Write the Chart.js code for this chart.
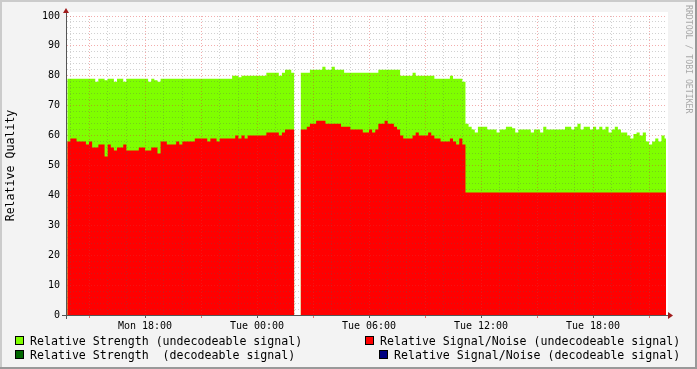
<!DOCTYPE html>
<html>
<head>
<meta charset="utf-8">
<script src="https://cdn.jsdelivr.net/npm/chart.js@4"></script>
<style>
html,body{margin:0;padding:0;background:#f3f3f3;}
#wrap{position:relative;width:697px;height:369px;overflow:hidden;}
canvas{position:absolute;left:0;top:0;}
.lg{position:absolute;font-family:'DejaVu Sans Mono',monospace;font-size:11.6px;white-space:pre;line-height:14px;color:#000;}
.sw{position:absolute;width:7px;height:7px;border:1px solid #000;}
</style>
</head>
<body>
<div id="wrap">
  <canvas id="c" width="697" height="369"></canvas>
  <div id="legend"></div>
</div>
<script>
// ---- data (10-minute steps starting Mon 13:50, hours since Mon 00:00) ----
const startHour = 13 + 50 / 60;
const stepHours = 10 / 60;
const xMin = 13.82;
const xMax = 45.91;

const strength = [
  79,79,79,79,79,79,79,79,79,78,
  79,79,78.5,79,79,78,79,79,78,79,
  79,79,79,79,79,79,78,79,78.5,78,
  79,79,79,79,79,79,79,79,79,79,
  79,79,79,79,79,79,79,79,79,79,
  79,79,79,80,80,79.5,80,80,80,80,
  80,80,80,80,81,81,81,81,80,81,
  82,82,81,82,null,81,81,81,82,82,
  82,82,83,82,82,83,82,82,82,81,
  81,81,81,81,81,81,81,81,81,81,
  82,82,82,82,82,82,82,80,80,80,
  80,81,80,80,80,80,80,80,79,79,
  79,79,79,80,79,79,79,78,64,63,
  62,61,63,63,63,62,62,62,61,62,
  62,63,63,62.5,61,62,62,62,62,61,
  62,62,61,63,62,62,62,62,62,62,
  63,63,62,63,64,62,63,63,62,63,
  62,63,62,63,61,62,63,62,61,61,
  60,59,60.5,61,60,61,58,57,58,59,
  58,60,59
];

const snr = [
  58,59,59,58,58,58,57,58,56,56,
  57,57,53,57,56,55,56,56,57,55,
  55,55,55,56,56,55,55,56,56,54,
  58,58,57,57,57,58,57,58,58,58,
  58,59,59,59,59,58,59,59,58,59,
  59,59,59,59,60,59,60,59,60,60,
  60,60,60,60,61,61,61,61,60,61,
  62,62,62,63,null,62,62,63,64,64,
  65,65,65,64,64,64,64,64,63,63,
  63,62,62,62,62,61,61,62,61,62,
  64,64,65,64,64,63,62,60,59,59,
  59,60,61,60,60,60,61,60,59,59,
  58,58,58,59,58,57,59,57,41,41,
  41,41,41,41,41,41,41,41,41,41,
  41,41,41,41,41,41,41,41,41,41,
  41,41,41,41,41,41,41,41,41,41,
  41,41,41,41,41,41,41,41,41,41,
  41,41,41,41,41,41,41,41,41,41,
  41,41,41,41,41,41,41,41,41,41,
  41,41,41
];

const xTickHours = [18, 24, 30, 36, 42];
const xTickLabels = ['Mon 18:00', 'Tue 00:00', 'Tue 06:00', 'Tue 12:00', 'Tue 18:00'];

const legendLabels = [
  'Relative Strength (undecodeable signal)',
  'Relative Signal/Noise (undecodeable signal)',
  'Relative Strength  (decodeable signal)',
  'Relative Signal/Noise (decodeable signal)'
];
const legendColors = ['#7FFF00', '#FF0000', '#006600', '#000080'];

// ---- helpers ----
function toPoints(arr) {
  const pts = arr.map((v, i) => ({ x: startHour + i * stepHours, y: v }));
  pts.push({ x: xMax, y: arr[arr.length - 1] });
  return pts;
}
const gridHours = [];
for (let h = Math.ceil(xMin); h <= Math.floor(xMax); h++) gridHours.push(h);

const MONO = "'DejaVu Sans Mono', monospace";
const MINOR = 'rgba(90,90,90,0.28)';
const MAJOR = 'rgba(225,50,50,0.40)';

// ---- legend (HTML text) ----
const legendPos = [
  { sx: 15, sy: 336, tx: 30, ty: 334 },
  { sx: 365, sy: 336, tx: 380, ty: 334 },
  { sx: 15, sy: 350, tx: 30, ty: 348 },
  { sx: 379, sy: 350, tx: 394, ty: 348 }
];
const lg = document.getElementById('legend');
legendLabels.forEach((t, i) => {
  const p = legendPos[i];
  const s = document.createElement('div');
  s.className = 'sw';
  s.style.left = p.sx + 'px'; s.style.top = p.sy + 'px';
  s.style.background = legendColors[i];
  lg.appendChild(s);
  const d = document.createElement('div');
  d.className = 'lg';
  d.style.left = p.tx + 'px'; d.style.top = p.ty + 'px';
  d.textContent = t;
  lg.appendChild(d);
});

// ---- decoration plugin ----
const frame = {
  id: 'frame',
  beforeDraw(chart) {
    const { ctx, chartArea: a } = chart;
    ctx.save();
    ctx.fillStyle = '#f3f3f3';
    ctx.fillRect(0, 0, chart.width, chart.height);
    // 3D border
    ctx.fillStyle = '#cbcbcb';
    ctx.fillRect(0, 0, chart.width, 2);
    ctx.fillRect(0, 0, 2, chart.height);
    ctx.fillStyle = '#999999';
    ctx.fillRect(0, chart.height - 2, chart.width, 2);
    ctx.fillRect(chart.width - 2, 0, 2, chart.height);
    // canvas
    ctx.fillStyle = '#ffffff';
    ctx.fillRect(a.left, a.top - 4, a.right - a.left + 2, a.bottom - a.top + 4);
    ctx.restore();
  },
  afterDraw(chart) {
    const { ctx, chartArea: a } = chart;
    ctx.save();
    // axes
    ctx.fillStyle = '#555555';
    ctx.fillRect(a.left - 1, a.top - 4, 1, a.bottom - a.top + 8);
    ctx.fillRect(a.left - 5, a.bottom, a.right - a.left + 9, 1);
    // arrows
    ctx.fillStyle = '#a01c1c';
    ctx.beginPath();
    ctx.moveTo(a.left - 4, a.top - 3);
    ctx.lineTo(a.left + 2, a.top - 3);
    ctx.lineTo(a.left - 1, a.top - 8);
    ctx.closePath(); ctx.fill();
    ctx.beginPath();
    ctx.moveTo(a.right + 2, a.bottom - 3);
    ctx.lineTo(a.right + 2, a.bottom + 4);
    ctx.lineTo(a.right + 7, a.bottom + 0.5);
    ctx.closePath(); ctx.fill();
    // watermark
    ctx.translate(688, 5);
    ctx.rotate(Math.PI / 2);
    ctx.font = "8.2px " + MONO;
    ctx.fillStyle = '#a8a8a8';
    ctx.textBaseline = 'middle';
    ctx.textAlign = 'left';
    ctx.fillText('RRDTOOL / TOBI OETIKER', 0, 0);
    ctx.restore();
  }
};

new Chart(document.getElementById('c'), {
  type: 'line',
  data: {
    datasets: [
      {
        label: legendLabels[0], data: toPoints(strength),
        backgroundColor: legendColors[0], borderColor: legendColors[0], borderWidth: 0,
        fill: 'origin', stepped: 'before', pointRadius: 0, spanGaps: false, order: 2
      },
      {
        label: legendLabels[1], data: toPoints(snr),
        backgroundColor: legendColors[1], borderColor: legendColors[1], borderWidth: 0,
        fill: 'origin', stepped: 'before', pointRadius: 0, spanGaps: false, order: 1
      }
    ]
  },
  options: {
    responsive: false,
    animation: false,
    devicePixelRatio: 1,
    layout: { padding: { left: 0, top: 16, right: 31, bottom: 34 } },
    plugins: { legend: { display: false }, tooltip: { enabled: false } },
    scales: {
      x: {
        type: 'linear', min: xMin, max: xMax,
        afterBuildTicks: s => { s.ticks = gridHours.map(v => ({ value: v })); },
        afterFit: s => { s.height = 20; },
        ticks: {
          autoSkip: false, maxRotation: 0, minRotation: 0, padding: 2,
          color: '#000', font: { family: MONO, size: 10 },
          callback: v => { const k = xTickHours.indexOf(v); return k >= 0 ? xTickLabels[k] : ''; }
        },
        grid: {
          z: 1, lineWidth: 1,
          color: c => (c.tick && c.tick.value % 3 === 0) ? MAJOR : MINOR,
          drawTicks: true, tickLength: 3,
          tickColor: c => {
            const v = c.tick ? c.tick.value : 1;
            if (v % 6 === 0) return '#555555';
            if (v % 3 === 0) return 'rgba(220,60,60,0.7)';
            return 'rgba(0,0,0,0)';
          }
        },
        border: { display: false, dash: [1, 2] }
      },
      y: {
        min: 0, max: 100,
        afterFit: s => { s.width = 67; },
        ticks: {
          stepSize: 2, autoSkip: false, padding: 7,
          color: '#000', font: { family: MONO, size: 10 },
          callback: v => (v % 10 === 0 ? String(v) : '')
        },
        grid: {
          z: 1, lineWidth: 1, drawTicks: false,
          color: c => (c.tick && c.tick.value % 10 === 0) ? MAJOR : MINOR
        },
        border: { display: false, dash: [1, 2] },
        title: {
          display: true, text: 'Relative Quality', color: '#000',
          font: { family: MONO, size: 11.6 }, padding: { top: 4, bottom: 0 }
        }
      }
    }
  },
  plugins: [frame]
});
</script>
</body>
</html>
